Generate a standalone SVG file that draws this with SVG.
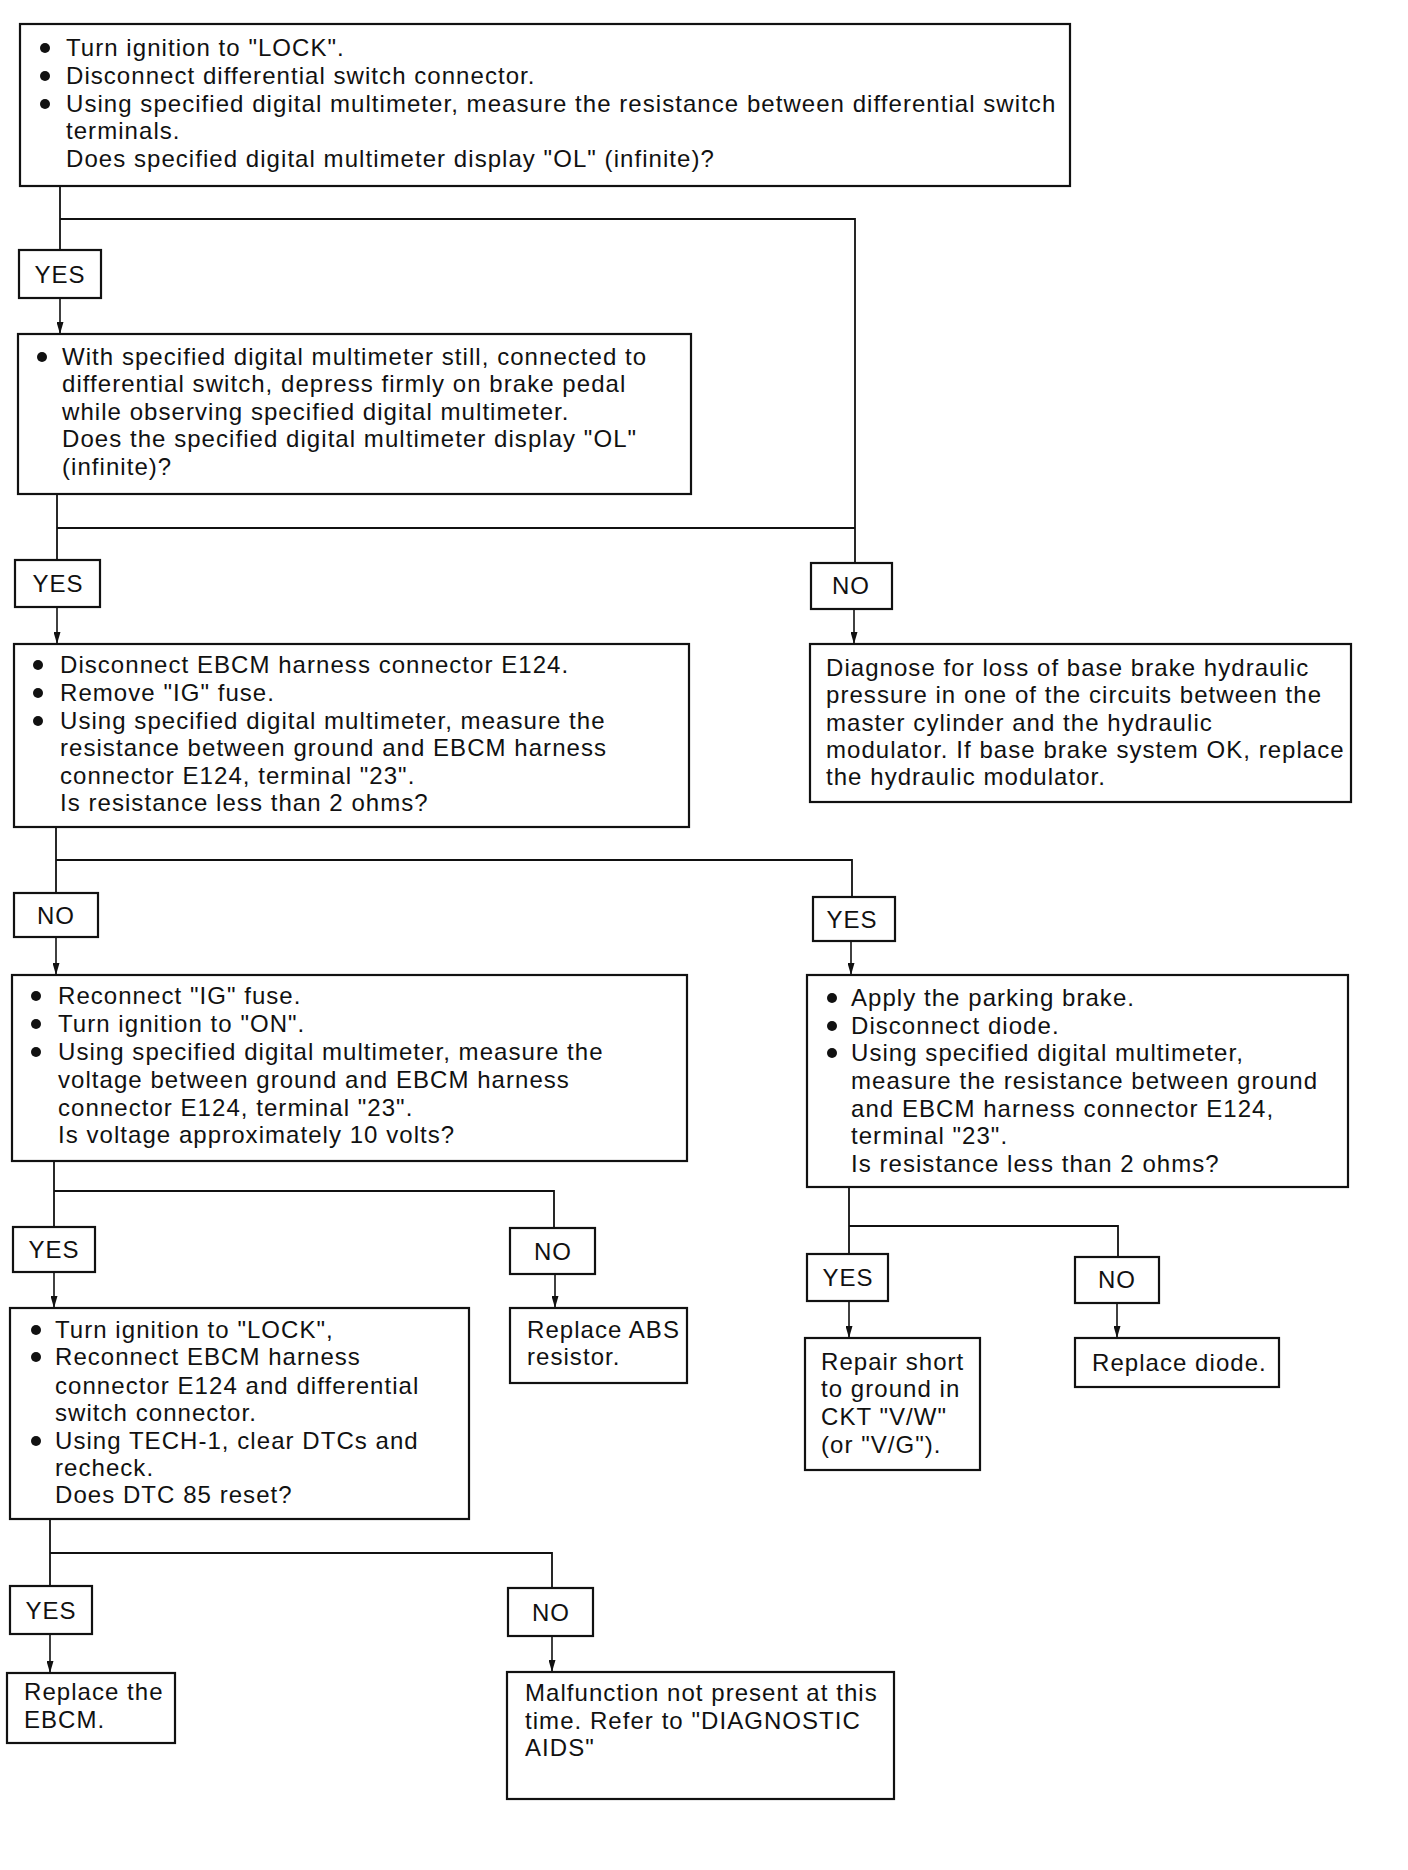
<svg xmlns="http://www.w3.org/2000/svg" width="1408" height="1870" viewBox="0 0 1408 1870">
<style>
  .box { fill: #fff; stroke: #111; stroke-width: 2.2; }
  .t { font-family: "Liberation Sans", Arial, sans-serif; font-size: 24px; letter-spacing: 1.05px; fill: #111; }
  .lbl { font-family: "Liberation Sans", Arial, sans-serif; font-size: 24px; letter-spacing: 1px; fill: #111; text-anchor: middle; }
  .bul { fill: #111; }
  .c { fill: none; stroke: #111; stroke-width: 1.8; }
  .a { fill: none; stroke: #111; stroke-width: 1.6; marker-end: url(#arr); }
</style>
<defs>
  <marker id="arr" markerUnits="userSpaceOnUse" markerWidth="12" markerHeight="7" refX="12" refY="3.5" orient="auto">
    <path d="M0,0 L12,3.5 L0,7 z" fill="#111"/>
  </marker>
</defs>
<rect width="1408" height="1870" fill="#fff"/>

<g id="connectors">
  <polyline class="c" points="60,186 60,250"/>
  <polyline class="c" points="60,219 855,219 855,563"/>
  <polyline class="a" points="60,298 60,334"/>
  <polyline class="c" points="57,494 57,560"/>
  <polyline class="c" points="57,528 855,528"/>
  <polyline class="a" points="57,607 57,644"/>
  <polyline class="a" points="854,609 854,644"/>
  <polyline class="c" points="56,827 56,893"/>
  <polyline class="c" points="56,860 852,860 852,897"/>
  <polyline class="a" points="56,937 56,975"/>
  <polyline class="a" points="851,941 851,975"/>
  <polyline class="c" points="54,1161 54,1227"/>
  <polyline class="c" points="54,1191 554,1191 554,1228"/>
  <polyline class="a" points="54,1272 54,1308"/>
  <polyline class="a" points="555,1274 555,1308"/>
  <polyline class="c" points="849,1187 849,1254"/>
  <polyline class="c" points="849,1226 1118,1226 1118,1257"/>
  <polyline class="a" points="849,1301 849,1338"/>
  <polyline class="a" points="1117,1303 1117,1338"/>
  <polyline class="c" points="50,1519 50,1586"/>
  <polyline class="c" points="50,1553 552,1553 552,1588"/>
  <polyline class="a" points="50,1634 50,1673"/>
  <polyline class="a" points="552,1636 552,1672"/>
</g>

<g id="step1">
  <rect class="box" x="20" y="24" width="1050" height="162"/>
  <circle class="bul" cx="45" cy="48" r="5"/>
  <circle class="bul" cx="45" cy="76" r="5"/>
  <circle class="bul" cx="45" cy="104" r="5"/>
  <text class="t" x="66" y="56">Turn ignition to "LOCK".</text>
  <text class="t" x="66" y="84">Disconnect differential switch connector.</text>
  <text class="t" x="66" y="112">Using specified digital multimeter, measure the resistance between differential switch</text>
  <text class="t" x="66" y="139">terminals.</text>
  <text class="t" x="66" y="167">Does specified digital multimeter display "OL" (infinite)?</text>
</g>

<g id="yes1">
  <rect class="box" x="19" y="250" width="82" height="48"/>
  <text class="lbl" x="60" y="283">YES</text>
</g>

<g id="step2">
  <rect class="box" x="18" y="334" width="673" height="160"/>
  <circle class="bul" cx="42" cy="357" r="5"/>
  <text class="t" x="62" y="365">With specified digital multimeter still, connected to</text>
  <text class="t" x="62" y="392">differential switch, depress firmly on brake pedal</text>
  <text class="t" x="62" y="420">while observing specified digital multimeter.</text>
  <text class="t" x="62" y="447">Does the specified digital multimeter display "OL"</text>
  <text class="t" x="62" y="475">(infinite)?</text>
</g>

<g id="yes2">
  <rect class="box" x="15" y="560" width="85" height="47"/>
  <text class="lbl" x="58" y="592">YES</text>
</g>

<g id="no1">
  <rect class="box" x="811" y="563" width="81" height="46"/>
  <text class="lbl" x="851" y="594">NO</text>
</g>

<g id="step3">
  <rect class="box" x="14" y="644" width="675" height="183"/>
  <circle class="bul" cx="38" cy="665" r="5"/>
  <circle class="bul" cx="38" cy="693" r="5"/>
  <circle class="bul" cx="38" cy="721" r="5"/>
  <text class="t" x="60" y="673">Disconnect EBCM harness connector E124.</text>
  <text class="t" x="60" y="701">Remove "IG" fuse.</text>
  <text class="t" x="60" y="729">Using specified digital multimeter, measure the</text>
  <text class="t" x="60" y="756">resistance between ground and EBCM harness</text>
  <text class="t" x="60" y="784">connector E124, terminal "23".</text>
  <text class="t" x="60" y="811">Is resistance less than 2 ohms?</text>
</g>

<g id="diagnose">
  <rect class="box" x="810" y="644" width="541" height="158"/>
  <text class="t" x="826" y="676">Diagnose for loss of base brake hydraulic</text>
  <text class="t" x="826" y="703">pressure in one of the circuits between the</text>
  <text class="t" x="826" y="731">master cylinder and the hydraulic</text>
  <text class="t" x="826" y="758">modulator. If base brake system OK, replace</text>
  <text class="t" x="826" y="785">the hydraulic modulator.</text>
</g>

<g id="no2">
  <rect class="box" x="14" y="893" width="84" height="44"/>
  <text class="lbl" x="56" y="924">NO</text>
</g>

<g id="yes3">
  <rect class="box" x="813" y="897" width="82" height="44"/>
  <text class="lbl" x="852" y="928">YES</text>
</g>

<g id="step4">
  <rect class="box" x="12" y="975" width="675" height="186"/>
  <circle class="bul" cx="36" cy="996" r="5"/>
  <circle class="bul" cx="36" cy="1024" r="5"/>
  <circle class="bul" cx="36" cy="1052" r="5"/>
  <text class="t" x="58" y="1004">Reconnect "IG" fuse.</text>
  <text class="t" x="58" y="1032">Turn ignition to "ON".</text>
  <text class="t" x="58" y="1060">Using specified digital multimeter, measure the</text>
  <text class="t" x="58" y="1088">voltage between ground and EBCM harness</text>
  <text class="t" x="58" y="1116">connector E124, terminal "23".</text>
  <text class="t" x="58" y="1143">Is voltage approximately 10 volts?</text>
</g>

<g id="step5">
  <rect class="box" x="807" y="975" width="541" height="212"/>
  <circle class="bul" cx="832" cy="998" r="5"/>
  <circle class="bul" cx="832" cy="1026" r="5"/>
  <circle class="bul" cx="832" cy="1053" r="5"/>
  <text class="t" x="851" y="1006">Apply the parking brake.</text>
  <text class="t" x="851" y="1034">Disconnect diode.</text>
  <text class="t" x="851" y="1061">Using specified digital multimeter,</text>
  <text class="t" x="851" y="1089">measure the resistance between ground</text>
  <text class="t" x="851" y="1117">and EBCM harness connector E124,</text>
  <text class="t" x="851" y="1144">terminal "23".</text>
  <text class="t" x="851" y="1172">Is resistance less than 2 ohms?</text>
</g>

<g id="yes4">
  <rect class="box" x="13" y="1227" width="82" height="45"/>
  <text class="lbl" x="54" y="1258">YES</text>
</g>

<g id="no3">
  <rect class="box" x="510" y="1228" width="85" height="46"/>
  <text class="lbl" x="553" y="1260">NO</text>
</g>

<g id="yes5">
  <rect class="box" x="807" y="1254" width="81" height="47"/>
  <text class="lbl" x="848" y="1286">YES</text>
</g>

<g id="no4">
  <rect class="box" x="1075" y="1257" width="84" height="46"/>
  <text class="lbl" x="1117" y="1288">NO</text>
</g>

<g id="step6">
  <rect class="box" x="10" y="1308" width="459" height="211"/>
  <circle class="bul" cx="36" cy="1330" r="5"/>
  <circle class="bul" cx="36" cy="1357" r="5"/>
  <circle class="bul" cx="36" cy="1441" r="5"/>
  <text class="t" x="55" y="1338">Turn ignition to "LOCK",</text>
  <text class="t" x="55" y="1365">Reconnect EBCM harness</text>
  <text class="t" x="55" y="1394">connector E124 and differential</text>
  <text class="t" x="55" y="1421">switch connector.</text>
  <text class="t" x="55" y="1449">Using TECH-1, clear DTCs and</text>
  <text class="t" x="55" y="1476">recheck.</text>
  <text class="t" x="55" y="1503">Does DTC 85 reset?</text>
</g>

<g id="replace-abs">
  <rect class="box" x="510" y="1308" width="177" height="75"/>
  <text class="t" x="527" y="1338">Replace ABS</text>
  <text class="t" x="527" y="1365">resistor.</text>
</g>

<g id="repair-short">
  <rect class="box" x="805" y="1338" width="175" height="132"/>
  <text class="t" x="821" y="1370">Repair short</text>
  <text class="t" x="821" y="1397">to ground in</text>
  <text class="t" x="821" y="1425">CKT "V/W"</text>
  <text class="t" x="821" y="1453">(or "V/G").</text>
</g>

<g id="replace-diode">
  <rect class="box" x="1075" y="1338" width="204" height="49"/>
  <text class="t" x="1092" y="1371">Replace diode.</text>
</g>

<g id="yes6">
  <rect class="box" x="10" y="1586" width="82" height="48"/>
  <text class="lbl" x="51" y="1619">YES</text>
</g>

<g id="no5">
  <rect class="box" x="508" y="1588" width="85" height="48"/>
  <text class="lbl" x="551" y="1621">NO</text>
</g>

<g id="replace-ebcm">
  <rect class="box" x="7" y="1673" width="168" height="70"/>
  <text class="t" x="24" y="1700">Replace the</text>
  <text class="t" x="24" y="1728">EBCM.</text>
</g>

<g id="malfunction">
  <rect class="box" x="507" y="1672" width="387" height="127"/>
  <text class="t" x="525" y="1701">Malfunction not present at this</text>
  <text class="t" x="525" y="1729">time. Refer to "DIAGNOSTIC</text>
  <text class="t" x="525" y="1756">AIDS"</text>
</g>
</svg>
